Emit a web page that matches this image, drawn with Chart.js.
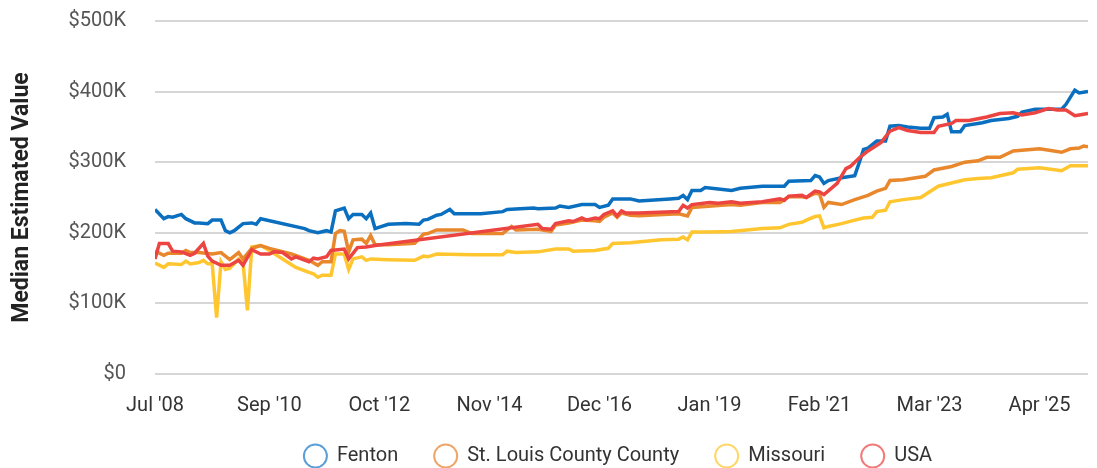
<!DOCTYPE html>
<html>
<head>
<meta charset="utf-8" />
<title>Median Estimated Value</title>
<script src="https://cdn.jsdelivr.net/npm/chart.js@4.4.1/dist/chart.umd.min.js"></script>
<style>
	html, body { margin: 0; padding: 0; background: #fff; }
	#wrap { width: 1097px; height: 468px; }
</style>
</head>
<body>
<div id="wrap"><canvas id="valueChart"></canvas></div>
<script>
// x = months since Jul '08, y = median value in $K
var tickLabels = ["Jul '08", "Sep '10", "Oct '12", "Nov '14", "Dec '16", "Jan '19", "Feb '21", "Mar '23", "Apr '25"]
var lastMonth = 212
var seriesNames = ["Fenton", "St. Louis County County", "Missouri", "USA"]

var fenton = [[0,233],[2,220],[3,223],[4,222],[6,226],[7,220],[9,214],[10,214],[12,213],[13,218],[15,218],[16,203],
	[17,200],[18,203],[20,213],[22,214],[23,212],[24,220],[34,206],[35,203],[37,200],[39,203],[40,201],[41,231],
	[43,235],[44,220],[45,226],[47,226],[48,220],[49,228],[50,206],[53,212],[57,213],[60,212],[61,218],[62,219],
	[64,225],[65,226],[67,233],[68,227],[74,227],[79,230],[80,233],[86,235],[87,234],[91,235],[92,238],[94,236],
	[97,240],[100,240],[101,236],[103,239],[104,248],[108,248],[110,245],[117,248],[119,249],[120,253],[121,247],
	[122,260],[124,260],[125,264],[128,262],[131,260],[133,263],[138,266],[143,266],[144,273],[149,274],[150,281],
	[151,279],[152,270],[153,274],[156,278],[159,281],[160,299],[161,318],[162,320],[164,330],[166,330],[167,351],
	[169,352],[171,350],[174,348],[176,348],[177,363],[179,364],[180,368],[181,343],[183,343],[184,352],[188,356],
	[190,359],[194,362],[196,365],[197,371],[200,375],[203,375],[206,375],[207,382],[209,402],[210,398],[212,400]]

var stLouis = [[0,174],[2,168],[3,171],[6,171],[7,175],[8,172],[10,172],[13,170],[15,172],[17,162],[19,172],[20,163],
	[22,178],[24,182],[26,178],[31,170],[35,161],[37,154],[38,159],[40,159],[41,199],[42,203],[43,202],[44,173],
	[45,190],[47,191],[48,185],[49,196],[50,183],[53,183],[59,185],[61,198],[62,199],[64,204],[70,204],[72,199],
	[79,199],[81,209],[82,204],[87,205],[90,202],[91,211],[94,214],[97,218],[100,217],[101,216],[102,222],[104,228],
	[105,222],[106,228],[108,225],[110,224],[119,227],[121,224],[122,236],[131,240],[133,239],[138,243],[142,243],
	[144,251],[147,251],[148,250],[150,256],[151,255],[152,236],[153,243],[156,240],[159,247],[162,253],[164,259],
	[166,263],[167,274],[170,275],[174,279],[175,280],[177,289],[181,294],[184,300],[187,302],[189,307],[192,307],
	[195,316],[201,319],[206,314],[208,319],[210,320],[211,323],[212,322]]

var missouri = [[0,157],[2,151],[3,156],[6,155],[7,160],[8,156],[10,158],[11,161],[12,156],[13,156],[14,80],[15,159],
	[16,148],[17,150],[19,163],[20,158],[21,90],[22,180],[24,182],[26,175],[29,163],[32,151],[35,144],[36,142],
	[37,137],[38,140],[40,140],[41,170],[43,170],[44,148],[45,163],[47,166],[48,161],[49,163],[53,162],[59,161],
	[61,167],[62,166],[64,170],[72,169],[79,169],[80,174],[82,172],[87,173],[91,177],[94,177],[95,174],[100,175],
	[103,178],[104,185],[108,186],[115,190],[119,191],[120,194],[121,190],[122,201],[126,201],[131,202],[138,206],
	[142,207],[144,212],[147,215],[148,218],[150,223],[151,224],[152,207],[153,209],[156,213],[159,218],[161,221],
	[163,222],[164,230],[166,232],[167,244],[170,247],[174,250],[177,262],[178,266],[184,275],[187,277],[190,278],
	[195,285],[196,290],[201,292],[206,288],[208,295],[212,295]]

var usa = [[0,163],[1,185],[3,185],[4,174],[6,173],[8,168],[9,171],[11,185],[12,167],[13,160],[15,154],[17,154],
	[19,161],[20,154],[22,176],[24,170],[26,170],[27,173],[29,172],[31,163],[32,166],[35,159],[36,164],[37,163],
	[39,166],[40,175],[43,177],[44,163],[46,179],[48,180],[50,182],[87,212],[88,206],[90,205],[91,213],[94,217],
	[95,216],[97,221],[98,218],[100,221],[101,220],[102,226],[104,231],[105,224],[106,231],[107,228],[110,228],
	[119,230],[120,239],[121,235],[122,240],[126,243],[128,242],[131,244],[133,242],[138,244],[142,248],[143,246],
	[144,252],[147,253],[148,250],[150,259],[151,258],[152,254],[155,270],[157,291],[158,294],[160,306],[162,316],
	[165,328],[167,344],[169,349],[171,345],[174,342],[177,342],[178,351],[181,355],[182,359],[185,359],[189,364],
	[192,369],[195,370],[197,367],[200,370],[203,376],[205,374],[207,374],[209,366],[210,367],[212,369]]

var lineColors = ["#0b6fc0", "#e8872b", "#ffc62f", "#ec4440"]
var legendColors = ["#5a9fd8", "#eea567", "#ffd766", "#f07a77"]

var monthNames = ["Jan","Feb","Mar","Apr","May","Jun","Jul","Aug","Sep","Oct","Nov","Dec"]
function monthIndex(label) {
	var p = label.split(" '")
	return (2000 + parseInt(p[1], 10) - 2008) * 12 + monthNames.indexOf(p[0]) - 6
}
var tickMonths = tickLabels.map(monthIndex)

function toPoints(list) {
	return list.map(function (d) { return { x: d[0], y: d[1] * 1000 } })
}

var allSeries = [fenton, stLouis, missouri, usa]
var drawOrder = [1, 2, 3, 0]
var datasets = allSeries.map(function (s, i) {
	return {
		label: seriesNames[i],
		data: toPoints(s),
		borderColor: lineColors[i],
		backgroundColor: "rgba(0,0,0,0)",
		borderWidth: 3.5,
		pointRadius: 0,
		tension: 0,
		order: drawOrder[i]
	}
})

// legend row sits under the plot area (centered on it), its middle at y ~456
var legendUnderPlot = {
	id: "legendUnderPlot",
	afterLayout: function (chart) {
		var lg = chart.legend
		if (lg) {
			lg.left = chart.chartArea.left - 7
			lg.right = chart.chartArea.right
			lg.top = 410
			lg.bottom = chart.height
		}
	}
}

Chart.defaults.font.family = "Roboto"

new Chart("valueChart", {
	type: "line",
	data: { datasets: datasets },
	options: {
		responsive: true,
		maintainAspectRatio: false,
		animation: false,
		layout: { padding: { top: 21, right: 9, bottom: -36, left: 0 } },
		scales: {
			x: {
				type: "linear",
				min: 0,
				max: lastMonth,
				grid: { display: false, drawTicks: false },
				border: { display: false },
				afterBuildTicks: function (scale) {
					scale.ticks = tickMonths.map(function (v) { return { value: v } })
				},
				ticks: {
					autoSkip: false,
					maxRotation: 0,
					padding: 20,
					color: "#333",
					font: { size: 20 },
					callback: function (v) {
						var i = tickMonths.indexOf(v)
						return i >= 0 ? tickLabels[i] : ""
					}
				}
			},
			y: {
				min: 0,
				max: 500000,
				grid: { color: "#d6d6d6", lineWidth: 2, drawTicks: false },
				border: { display: false },
				afterFit: function (scale) {
					scale.width = 155
					scale.paddingTop = 0
					scale.paddingBottom = 0
				},
				ticks: {
					stepSize: 100000,
					padding: 29,
					color: "#555",
					font: { size: 20 },
					callback: function (v) { return v === 0 ? "$0" : "$" + (v / 1000) + "K" }
				},
				title: {
					display: true,
					text: "Median Estimated Value",
					color: "#222",
					font: { size: 23, weight: "bold" },
					padding: { top: 8, bottom: 0 }
				}
			}
		},
		plugins: {
			tooltip: { enabled: false },
			legend: {
				position: "bottom",
				labels: {
					usePointStyle: true,
					pointStyle: "circle",
					pointStyleWidth: 23,
					boxHeight: 16.26,
					padding: 36,
					color: "#333",
					font: { size: 20 },
					sort: function (a, b) { return a.datasetIndex - b.datasetIndex },
					generateLabels: function (chart) {
						var items = Chart.defaults.plugins.legend.labels.generateLabels(chart)
						items.forEach(function (it) {
							it.fillStyle = "rgba(0,0,0,0)"
							it.strokeStyle = legendColors[it.datasetIndex]
							it.lineWidth = 2
							it.pointStyle = "circle"
						})
						return items
					}
				}
			}
		}
	},
	plugins: [legendUnderPlot]
})
</script>
</body>
</html>
